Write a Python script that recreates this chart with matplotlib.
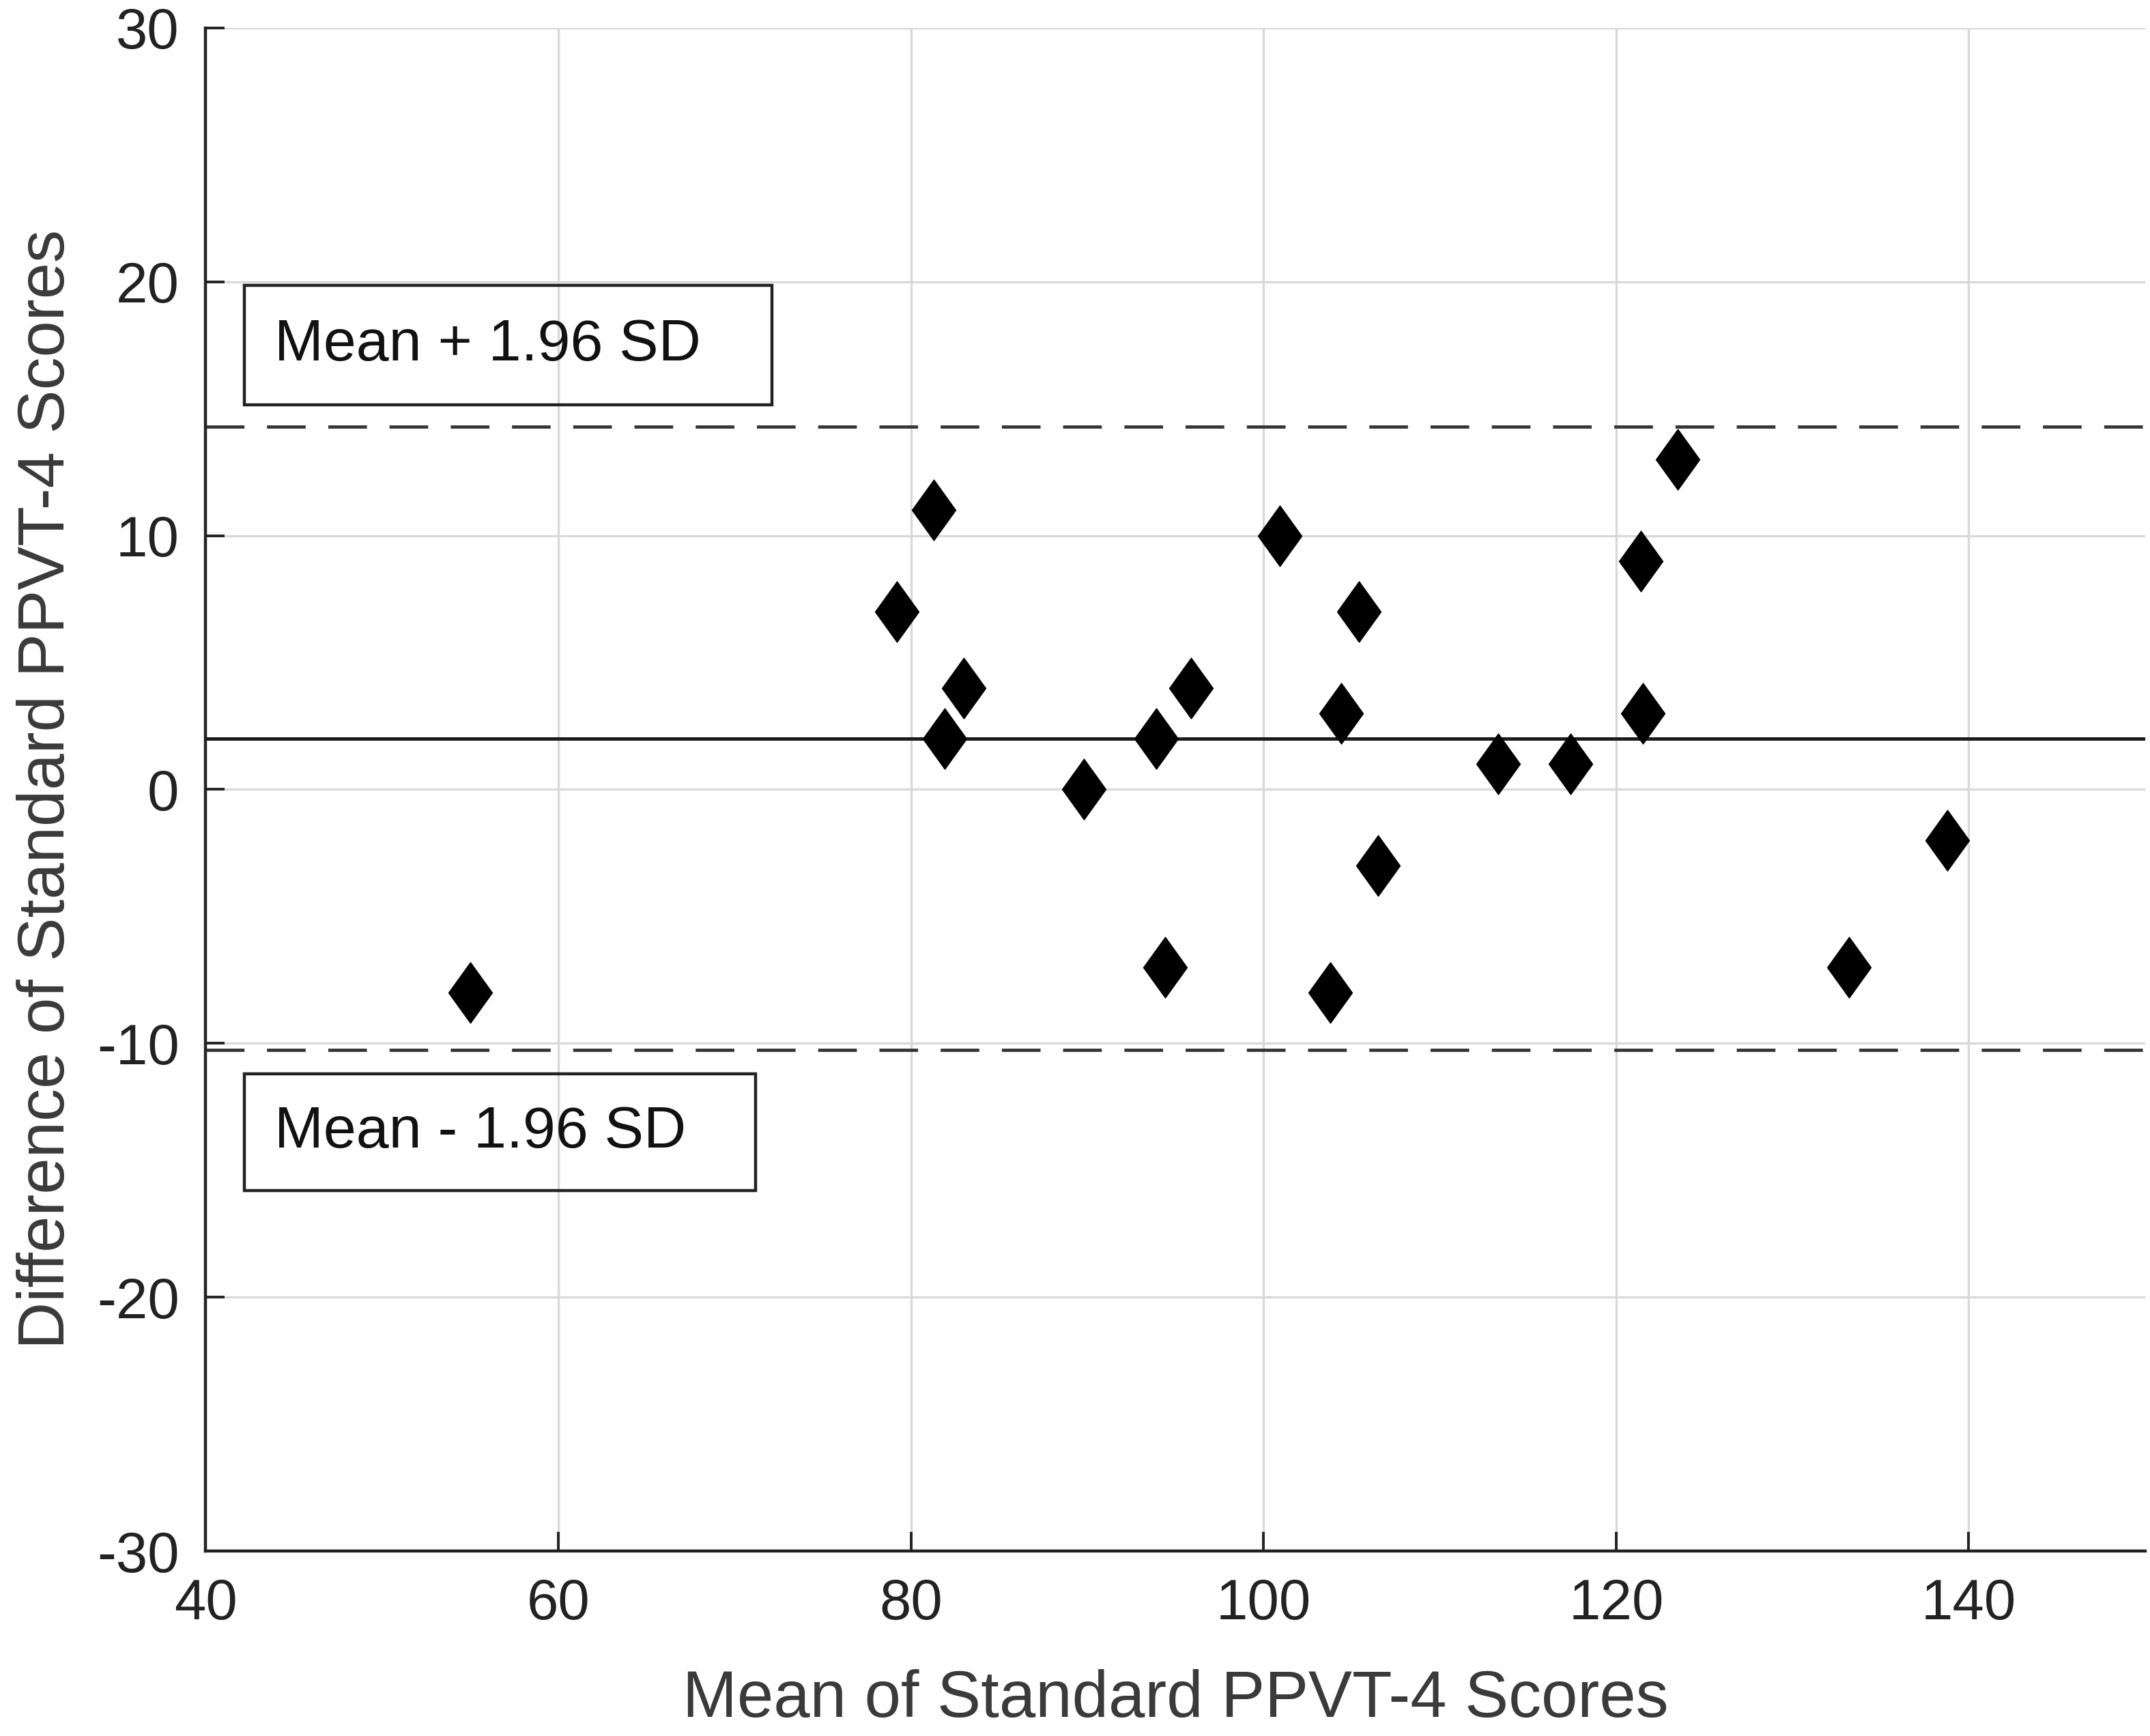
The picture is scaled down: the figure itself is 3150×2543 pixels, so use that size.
import matplotlib
matplotlib.use('Agg')
import matplotlib.pyplot as plt
from matplotlib.path import Path
from matplotlib.patches import Rectangle

plt.rcParams['font.family'] = ['Liberation Sans', 'DejaVu Sans']
plt.rcParams['axes.unicode_minus'] = False  # plain hyphen for negative ticks

# Bland-Altman data
mean_scores = [55.0, 79.2, 81.3, 83.0, 81.9, 89.8, 93.9, 94.4, 95.9, 100.9, 103.8,
               104.4, 105.4, 106.5, 113.3, 117.4, 121.4, 121.5, 123.5, 133.2, 138.8]
diff_scores = [-8, 7, 11, 4, 2, 0, 2, -7, 4, 10, -8,
               3, 7, -3, 1, 1, 9, 3, 13, -7, -2]
mean_diff = 2.0
upper_loa = 14.3
lower_loa = -10.25

x_ticks = [40, 60, 80, 100, 120, 140]
y_ticks = [-30, -20, -10, 0, 10, 20, 30]

# tall thin diamond like the MATLAB one
diamond = Path([(0, 1), (0.72, 0), (0, -1), (-0.72, 0), (0, 1)],
               [Path.MOVETO, Path.LINETO, Path.LINETO, Path.LINETO, Path.CLOSEPOLY])

fig = plt.figure(figsize=(15.75, 12.715), dpi=200)
ax = fig.add_axes([0.0957, 0.1065, 0.902, 0.8775])

ax.grid(True, color='#d9d9d9', linewidth=1.2)
ax.set_axisbelow(True)

ax.axhline(mean_diff, color='#1a1a1a', linewidth=1.8, zorder=2)
ax.axhline(upper_loa, color='#333333', linewidth=1.7, dashes=(12, 7), zorder=2)
ax.axhline(lower_loa, color='#333333', linewidth=1.7, dashes=(12, 7), zorder=2)

ax.plot(mean_scores, diff_scores, linestyle='none', marker=diamond,
        markersize=32, color='black', markeredgewidth=0.5, zorder=3)

# label boxes for the limits of agreement
ax.add_patch(Rectangle((42.2, 15.15), 29.9, 4.7, fill=False, edgecolor='#222222',
                       linewidth=1.6, zorder=4))
ax.text(43.9, 17.5, 'Mean + 1.96 SD', fontsize=31, va='center', ha='left',
        color='#111111', zorder=5)
ax.add_patch(Rectangle((42.2, -15.8), 29.0, 4.6, fill=False, edgecolor='#222222',
                       linewidth=1.6, zorder=4))
ax.text(43.9, -13.5, 'Mean - 1.96 SD', fontsize=31, va='center', ha='left',
        color='#111111', zorder=5)

ax.set_xlim(40, 150)
ax.set_ylim(-30, 30)
ax.set_xticks(x_ticks)
ax.set_yticks(y_ticks)
ax.tick_params(direction='in', length=10, width=1.4, labelsize=30,
               colors='#222222', pad=14)
ax.spines['top'].set_visible(False)
ax.spines['right'].set_visible(False)
for s in ['left', 'bottom']:
    ax.spines[s].set_linewidth(1.6)
    ax.spines[s].set_color('#222222')

ax.set_xlabel('Mean of Standard PPVT-4 Scores', fontsize=34.5, color='#3a3a3a', labelpad=20)
ax.set_ylabel('Difference of Standard PPVT-4 Scores', fontsize=34.5, color='#3a3a3a', labelpad=10)

plt.savefig('out.png', dpi=200)
